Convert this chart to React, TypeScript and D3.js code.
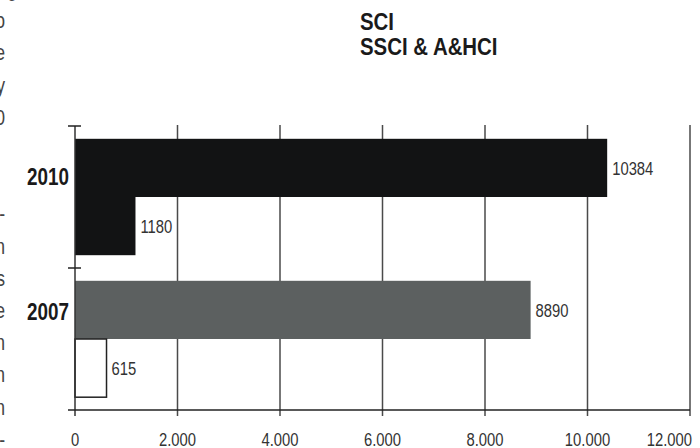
import React, { useEffect, useRef } from 'react';
import * as d3 from 'd3';

const years = ['2010', '2007'];
const series = ['SCI', 'SSCI & A&HCI'];
const sciValues = [10384, 8890];
const ssciValues = [1180, 615];
const xTicks = [0, 2000, 4000, 6000, 8000, 10000, 12000];
// line ends of the neighbouring text column, cut by the left edge
const sideText = ['g', 'o', 'e', 'y', '0', '', '', '-', 'n', 's', 'e', 'n', 'n', 'n', '-'];

// no condensed face installed, so squeeze Liberation Sans horizontally
const FONT = '"Liberation Sans", Arial, sans-serif';

const App = () => {
  const svgRef = useRef(null);

  useEffect(() => {
    const svg = d3.select(svgRef.current);
    svg.selectAll('*').remove();

    const x = d3.scaleLinear().domain([0, 12000]).range([75, 690]);
    const y = d3.scaleBand().domain(years).range([126, 410]).paddingInner(0).paddingOuter(0);
    const inner = d3.scaleBand().domain(series).range([0, y.bandwidth()]).paddingInner(0).paddingOuter(0.22);

    const fmt = d3.formatLocale({ decimal: ',', thousands: '.', grouping: [3], currency: ['', ''] }).format(',');

    const rows = years.flatMap((yr, i) => [
      { year: yr, key: series[0], value: sciValues[i] },
      { year: yr, key: series[1], value: ssciValues[i] },
    ]);

    const fillFor = (d) => {
      if (d.year === '2010') return '#121314';
      return d.key === series[0] ? '#5c6060' : '#ffffff';
    };

    const narrow = (sel, sx = 0.8) =>
      sel.attr('transform', function () {
        const t = d3.select(this);
        return `translate(${t.attr('data-x')},${t.attr('data-y')}) scale(${sx},1)`;
      });

    // side text fragments
    svg
      .append('g')
      .selectAll('text')
      .data(sideText)
      .enter()
      .append('text')
      .attr('data-x', (d, i) => (i === 0 ? 17 : 5))
      .attr('data-y', (d, i) => i * 32.2 - 4)
      .attr('text-anchor', 'end')
      .style('font-family', FONT)
      .style('font-size', '22px')
      .attr('fill', '#444')
      .text((d) => d)
      .call(narrow, 0.8);

    // gridlines
    svg
      .append('g')
      .selectAll('line')
      .data(xTicks.slice(1))
      .enter()
      .append('line')
      .attr('x1', (d) => x(d))
      .attr('x2', (d) => x(d))
      .attr('y1', 125)
      .attr('y2', 416)
      .attr('stroke', '#4a4a4a')
      .attr('stroke-width', 1.5);

    // bars
    svg
      .append('g')
      .selectAll('rect')
      .data(rows)
      .enter()
      .append('rect')
      .attr('x', x(0))
      .attr('y', (d) => y(d.year) + inner(d.key))
      .attr('width', (d) => x(d.value) - x(0))
      .attr('height', inner.bandwidth())
      .attr('fill', fillFor)
      .attr('stroke', (d) => (fillFor(d) === '#ffffff' ? '#222' : 'none'))
      .attr('stroke-width', 1.5);

    // value labels
    svg
      .append('g')
      .selectAll('text')
      .data(rows)
      .enter()
      .append('text')
      .attr('data-x', (d) => x(d.value) + 5)
      .attr('data-y', (d) => y(d.year) + inner(d.key) + inner.bandwidth() / 2)
      .attr('dy', '0.36em')
      .style('font-family', FONT)
      .style('font-size', '19px')
      .attr('fill', '#333')
      .text((d) => d.value)
      .call(narrow, 0.78);

    // y axis
    const yAxis = svg.append('g');
    yAxis
      .append('line')
      .attr('x1', x(0))
      .attr('x2', x(0))
      .attr('y1', 126)
      .attr('y2', 416)
      .attr('stroke', '#333')
      .attr('stroke-width', 1.5);
    yAxis
      .selectAll('line.tick')
      .data([126, y('2007')])
      .enter()
      .append('line')
      .attr('class', 'tick')
      .attr('x1', x(0) - 7)
      .attr('x2', x(0) + 6)
      .attr('y1', (d) => d)
      .attr('y2', (d) => d)
      .attr('stroke', '#222')
      .attr('stroke-width', 1.5);

    const labelOffset = { '2010': 51, '2007': 44 };
    yAxis
      .selectAll('text')
      .data(years)
      .enter()
      .append('text')
      .attr('data-x', x(0) - 6)
      .attr('data-y', (d) => y(d) + labelOffset[d])
      .attr('dy', '0.36em')
      .attr('text-anchor', 'end')
      .style('font-family', FONT)
      .style('font-weight', 'bold')
      .style('font-size', '23px')
      .attr('fill', '#1a1a1a')
      .text((d) => d)
      .call(narrow, 0.82);

    // x axis
    const xAxis = svg.append('g');
    xAxis
      .append('line')
      .attr('x1', 68)
      .attr('x2', x(12000))
      .attr('y1', 410)
      .attr('y2', 410)
      .attr('stroke', '#222')
      .attr('stroke-width', 1.5);
    xAxis
      .selectAll('text')
      .data(xTicks)
      .enter()
      .append('text')
      .attr('data-x', (d, i) => (i === xTicks.length - 1 ? x(d) + 2 : x(d)))
      .attr('data-y', 439)
      .attr('dy', '0.36em')
      .attr('text-anchor', (d, i) => (i === xTicks.length - 1 ? 'end' : 'middle'))
      .style('font-family', FONT)
      .style('font-size', '19px')
      .attr('fill', '#333')
      .text((d) => fmt(d))
      .call(narrow, 0.78);

    // legend
    svg
      .append('g')
      .selectAll('text')
      .data(series)
      .enter()
      .append('text')
      .attr('data-x', 360)
      .attr('data-y', (d, i) => 30 + i * 25)
      .style('font-family', FONT)
      .style('font-weight', 'bold')
      .style('font-size', '24px')
      .attr('fill', '#1a1a1a')
      .text((d) => d)
      .call(narrow, 0.85);
  }, []);

  return (
    <svg
      ref={svgRef}
      width={700}
      height={448}
      style={{ position: 'absolute', left: 0, top: 0, background: '#fff' }}
    ></svg>
  );
};

export default App;
